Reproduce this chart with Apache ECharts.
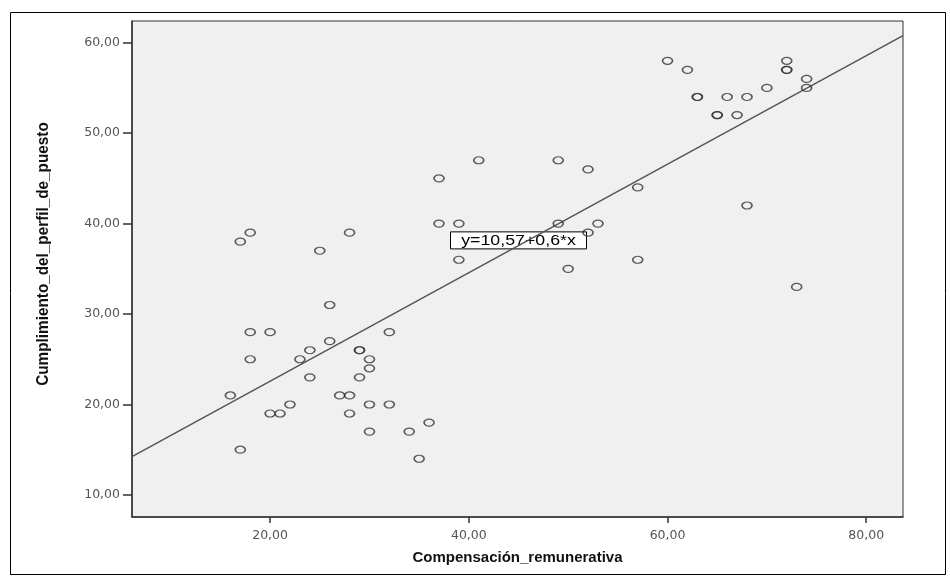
<!DOCTYPE html>
<html><head><meta charset="utf-8">
<script src="https://cdn.jsdelivr.net/npm/echarts@6/dist/echarts.min.js"></script>
<style>html,body{margin:0;padding:0;background:#fff}#c{width:950px;height:581px}</style>
</head><body><div id="c"></div>
<script>
// Compensación_remunerativa (x) and Cumplimiento_del_perfil_de_puesto (y)
const xValues = [17,18,25,28,37,41,37,39,39,
  60,62,63,63,66,68,65,65,67,70,72,72,72,74,74,
  49,52,57,68,49,53,52,57,50,73,
  26,18,20,32,26,24,23,18,29,29,30,30,24,29,16,27,28,22,20,21,30,32,28,36,30,34,17,35];
const yValues = [38,39,37,39,45,47,40,40,36,
  58,57,54,54,54,54,52,52,52,55,58,57,57,56,55,
  47,46,44,42,40,40,39,36,35,33,
  31,28,28,28,27,26,25,25,26,26,25,24,23,23,21,21,21,20,19,19,20,20,19,18,17,17,15,14];
const fitIntercept = 10.57;
const fitSlope = 0.6;
const fitLabel = 'y=10,57+0,6*x';
const fitLabelAt = [45.0, 38.2];
const xTicks = [20,40,60,80];
const yTicks = [10,20,30,40,50,60];
const xName = 'Compensación_remunerativa';
const yName = 'Cumplimiento_del_perfil_de_puesto';

const xMin = 6.1, xMax = 83.7, yMin = 7.56, yMax = 62.4;
const pts = xValues.map((x,i)=>[x,yValues[i]]);
const fit = [[xMin, fitIntercept+fitSlope*xMin],[xMax, fitIntercept+fitSlope*xMax]];
const fmt = v => v.toFixed(2).replace('.', ',');
const FONT = 'Liberation Sans, Arial, sans-serif';
const TICKFONT = 'DejaVu Sans, Liberation Sans, sans-serif';

const chart = echarts.init(document.getElementById('c'), null, {renderer:'canvas'});
chart.setOption({
  animation:false,
  backgroundColor:'#fff',
  grid:{left:132, top:21, right:47, bottom:64, show:true, backgroundColor:'#f0f0f0', borderColor:'#333', borderWidth:1, containLabel:false},
  xAxis:{type:'value', min:xMin, max:xMax,
    name:xName, nameLocation:'middle', nameGap:33,
    nameTextStyle:{fontFamily:FONT, fontWeight:'bold', fontSize:15, color:'#111'},
    axisLine:{show:true, onZero:false, lineStyle:{color:'#333', width:1.5}},
    axisTick:{show:true, customValues:xTicks, length:6, lineStyle:{color:'#333', width:1.5}},
    axisLabel:{customValues:xTicks, formatter:fmt, margin:12, fontFamily:TICKFONT, fontSize:12.5, color:'#555'},
    splitLine:{show:false}},
  yAxis:{type:'value', min:yMin, max:yMax,
    axisLine:{show:true, onZero:false, lineStyle:{color:'#333', width:1.5}},
    axisTick:{show:true, customValues:yTicks, length:9, lineStyle:{color:'#333', width:1.5}},
    axisLabel:{customValues:yTicks, formatter:fmt, margin:12, fontFamily:TICKFONT, fontSize:12.5, color:'#555'},
    splitLine:{show:false}},
  series:[
    {type:'line', data:fit, showSymbol:false, symbol:'none', lineStyle:{color:'#555', width:1.5}, z:2, silent:true},
    {type:'scatter', data:pts, symbol:'circle', symbolSize:[10,7],
     itemStyle:{color:'transparent', borderColor:'#333', borderWidth:1.4}, z:3}
  ]
});
const lp = chart.convertToPixel({gridIndex:0}, fitLabelAt);
const gb = chart.getModel().getComponent('grid').coordinateSystem.getRect();
chart.setOption({graphic:[
  {type:'rect', shape:{x:10.5,y:12.5,width:935,height:562}, style:{fill:'none', stroke:'#000', lineWidth:1}, z:0},
  {type:'text', x:43, y:gb.y + gb.height/2 - 15, rotation:Math.PI/2, scaleX:0.9,
   style:{text:yName, font:'bold 17px '+FONT, fill:'#111', align:'center', verticalAlign:'middle'}, z:10},
  {type:'group', x:lp[0], y:lp[1], z:20, children:[
    {type:'rect', shape:{x:-68, y:-8, width:136, height:17}, style:{fill:'#fff', stroke:'#000', lineWidth:1}},
    {type:'text', x:0, y:1, scaleX:1.27, style:{text:fitLabel, font:'14px '+FONT, fill:'#000', align:'center', verticalAlign:'middle'}}
  ]}
]});
</script></body></html>
